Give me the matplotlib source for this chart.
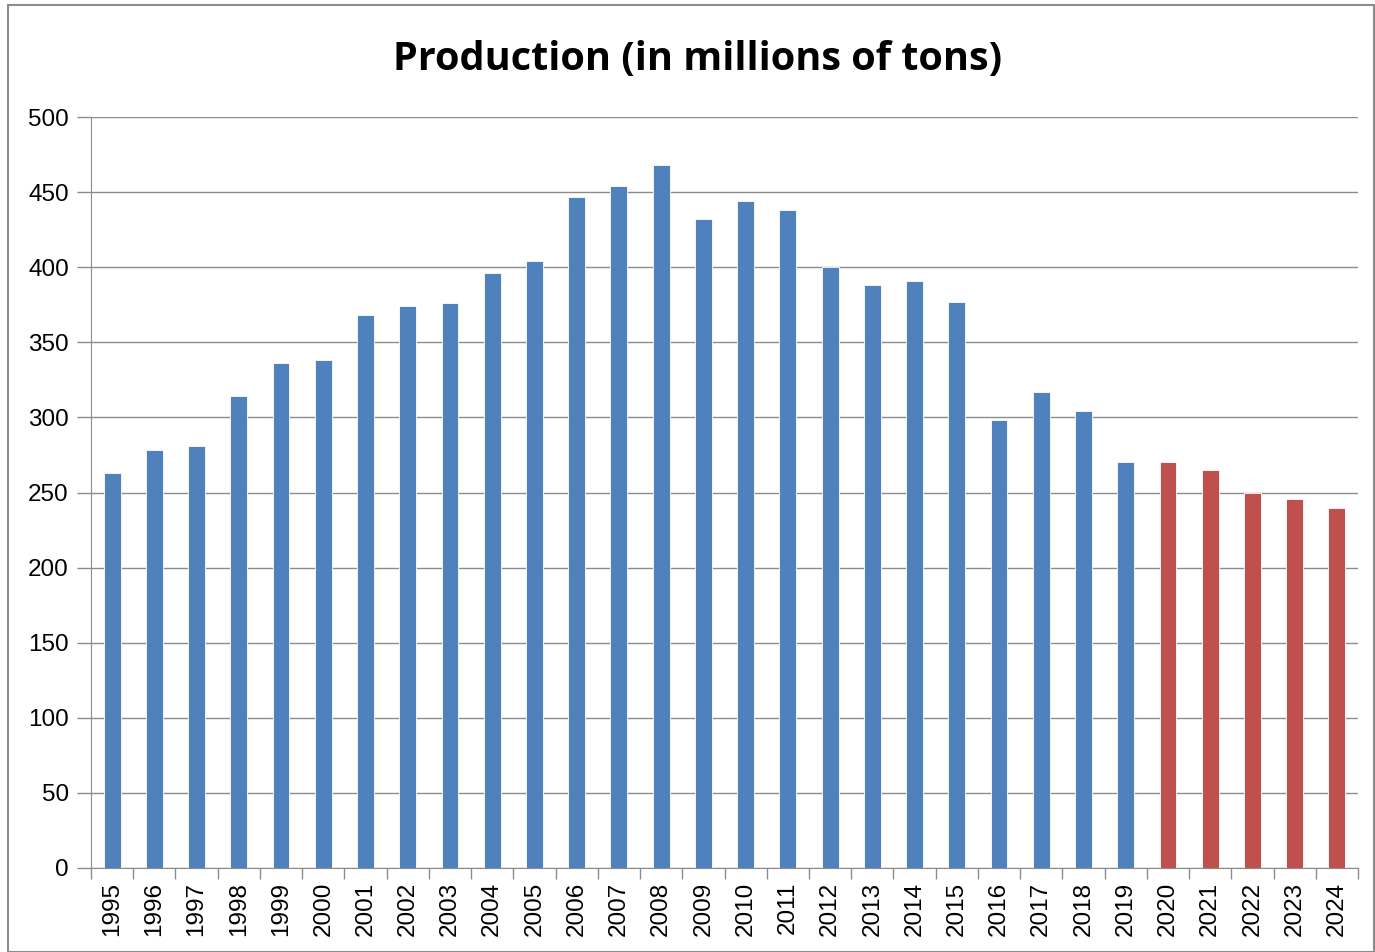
import matplotlib
matplotlib.use("Agg")
import matplotlib.pyplot as plt
from matplotlib.patches import Rectangle

years = [str(y) for y in range(1995, 2025)]
production = [263, 278, 281, 314, 336, 338, 368, 374, 376, 396, 404, 447, 454, 468,
              432, 444, 438, 400, 388, 391, 377, 298, 317, 304, 270,
              270, 265, 250, 246, 240]
forecast_start = "2020"

blue = "#4F81BD"
red = "#C0504D"
colors = [red if y >= forecast_start else blue for y in years]

fig = plt.figure(figsize=(13.75, 9.52), dpi=100)
fig.patches.append(Rectangle((8/1375, 0), 1 - 9/1375, 1 - 5/952, transform=fig.transFigure,
                             fill=False, edgecolor="#8c8c8c", linewidth=1.5))
ax = fig.add_axes([91/1375, 1 - 868/952, (1358-91)/1375, (868-117)/952])

x = list(range(len(years)))
ax.bar(x, production, width=0.4, color=colors, edgecolor="white", linewidth=0.6, zorder=3)

ax.set_xlim(-0.5, len(years) - 0.5)
ax.set_ylim(0, 500)
ax.set_yticks(range(0, 501, 50))
ax.yaxis.grid(True, color="#8c8c8c", linewidth=1.0, zorder=0)
ax.set_axisbelow(True)

ax.set_xticks(x)
ax.set_xticklabels(years, rotation=90, fontsize=17.5, family="Liberation Sans")
ax.set_xticks([i - 0.5 for i in range(len(years) + 1)], minor=True)
ax.tick_params(axis="x", which="major", length=0, pad=10)
ax.tick_params(axis="x", which="minor", length=8, color="#8c8c8c", width=1)
ax.tick_params(axis="y", length=10, color="#8c8c8c", width=1, labelsize=17.5, pad=6)
for lab in ax.get_yticklabels():
    lab.set_family("Liberation Sans")

for s in ["top", "right"]:
    ax.spines[s].set_visible(False)
ax.spines["left"].set_color("#8c8c8c")
ax.spines["bottom"].set_color("#8c8c8c")

fig.text(698 / 1375, 1 - 59/952, "Production (in millions of tons)",
         ha="center", va="center", fontsize=28.5, fontweight="bold", family="Open Sans")

fig.savefig("out.png", dpi=100)
